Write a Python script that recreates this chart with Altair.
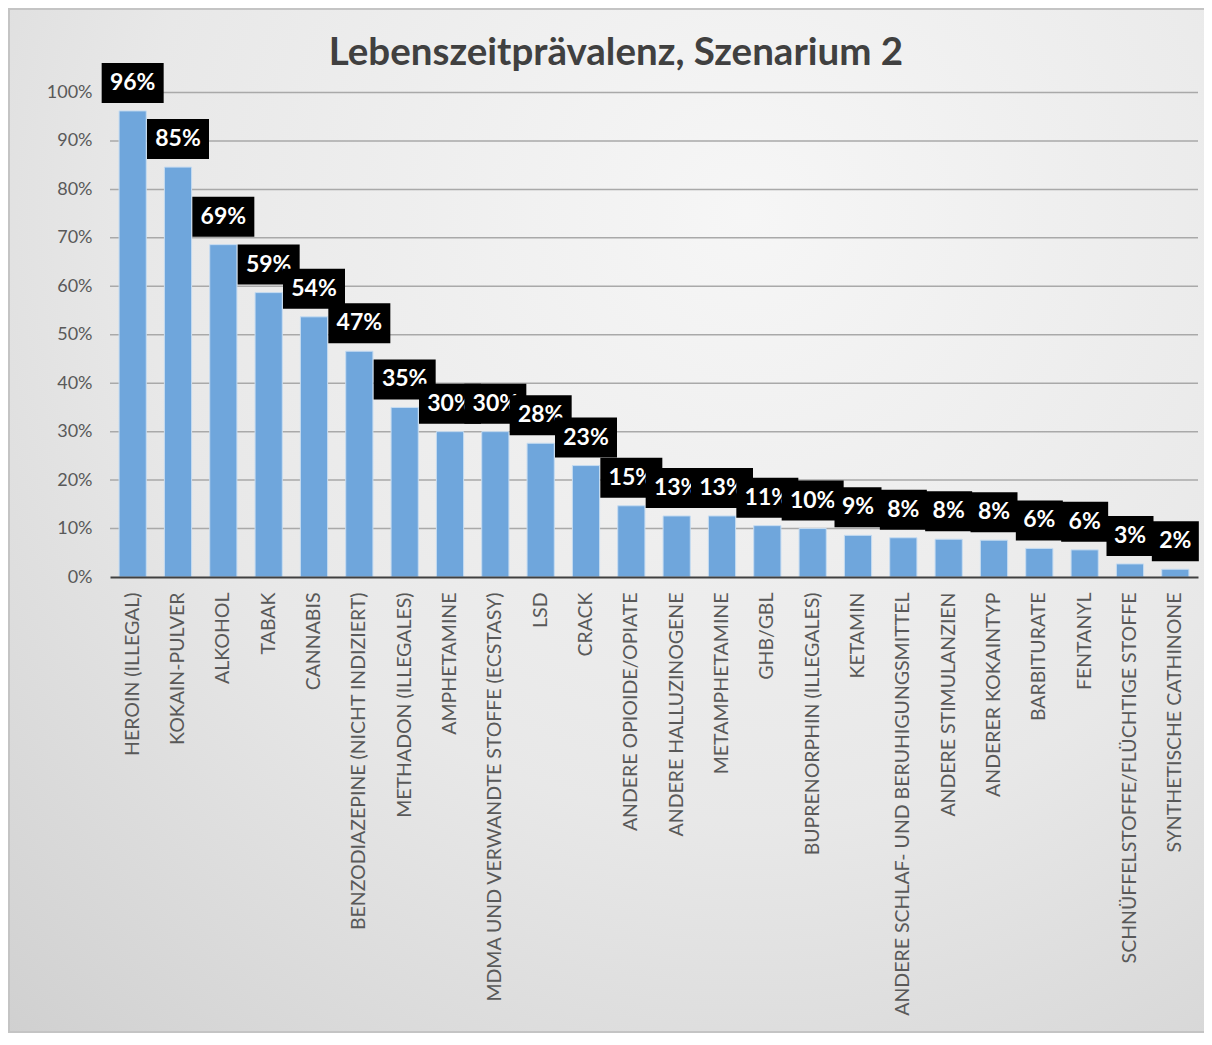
import altair as alt
import pandas as pd

categories = [
    "HEROIN (ILLEGAL)", "KOKAIN-PULVER", "ALKOHOL", "TABAK", "CANNABIS",
    "BENZODIAZEPINE (NICHT INDIZIERT)", "METHADON (ILLEGALES)", "AMPHETAMINE",
    "MDMA UND VERWANDTE STOFFE (ECSTASY)", "LSD", "CRACK", "ANDERE OPIOIDE/OPIATE",
    "ANDERE HALLUZINOGENE", "METAMPHETAMINE", "GHB/GBL", "BUPRENORPHIN (ILLEGALES)",
    "KETAMIN", "ANDERE SCHLAF- UND BERUHIGUNGSMITTEL", "ANDERE STIMULANZIEN",
    "ANDERER KOKAINTYP", "BARBITURATE", "FENTANYL",
    "SCHNÜFFELSTOFFE/FLÜCHTIGE STOFFE", "SYNTHETISCHE CATHINONE",
]
values = [
    0.962, 0.846, 0.686, 0.587, 0.537, 0.466, 0.350, 0.300, 0.300, 0.276, 0.230,
    0.147, 0.126, 0.126, 0.106, 0.100, 0.086, 0.081, 0.078, 0.076, 0.059, 0.056,
    0.027, 0.016,
]
y_ticks = [0.0, 0.1, 0.2, 0.3, 0.4, 0.5, 0.6, 0.7, 0.8, 0.9, 1.0]
grid_lines = [0.1, 0.2, 0.3, 0.4, 0.5, 0.6, 0.7, 0.8, 0.9, 1.0]
title_text = ["Lebenszeitprävalenz, Szenarium 2"]

W = 1088
H = 484.5
PAD_L, PAD_T, PAD_R, PAD_B = 102, 84.5, 6, 456

df = pd.DataFrame({"cat": categories, "v": values})
df["label"] = [f"{round(v * 100):d}%" for v in values]
grid_df = pd.DataFrame({"t": grid_lines})
title_df = pd.DataFrame({"title": title_text})

FONT = "Lato"
xscale = alt.Scale(domain=categories, paddingInner=0.4, paddingOuter=0.2)
yscale = alt.Scale(domain=[0, 1])

x_enc = alt.X(
    "cat:N", scale=xscale, sort=categories, title=None,
    axis=alt.Axis(
        labelAngle=-90, labelFontSize=19.5, labelColor="#595959", labelFont=FONT,
        labelPadding=15, labelLimit=700, ticks=False, domainColor="#404040",
        domainWidth=2, grid=False, zindex=2,
    ),
)
y_enc = alt.Y(
    "v:Q", scale=yscale, title=None,
    axis=alt.Axis(
        values=y_ticks, format=".0%", labelFontSize=18, labelColor="#595959",
        labelFont=FONT, labelPadding=18, ticks=False, domain=False, grid=False,
        zindex=2,
    ),
)

bg = alt.Chart(df).mark_rect(
    color=alt.RadialGradient(
        gradient="radial",
        stops=[
            alt.GradientStop(color="#f6f6f6", offset=0),
            alt.GradientStop(color="#e8e8e8", offset=0.55),
            alt.GradientStop(color="#d0d0d0", offset=1),
        ],
        x1=0.6, y1=0.25, r1=0, x2=0.6, y2=0.25, r2=0.9,
    ),
    stroke="#c4c4c4", strokeWidth=2,
).encode(
    x=alt.value(-PAD_L + 1), x2=alt.value(W + 40),
    y=alt.value(-PAD_T + 1), y2=alt.value(H + PAD_B - 1),
)

title = alt.Chart(title_df).mark_text(
    fontSize=38.5, font=FONT, fontWeight="bold", color="#404040",
    align="center", baseline="alphabetic",
).encode(text="title:N", x=alt.value(506), y=alt.value(-27.5))

grid = alt.Chart(grid_df).mark_rule(color="#a9a9a9", strokeWidth=1.5).encode(
    y=alt.Y("t:Q", scale=yscale)
)

bars = alt.Chart(df).mark_bar(
    color="#6fa6dc", stroke="#c6dcf1", strokeWidth=1, opacity=1
).encode(x=x_enc, y=y_enc)

layers = [bg, title, grid, bars]
for cat, lab in zip(categories, df["label"]):
    bw = 62 if len(lab) >= 3 else 47
    base = alt.Chart(df).transform_filter(alt.datum.cat == cat)
    box = base.mark_bar(
        color="#000000", width=bw, yOffset=-8, y2Offset=-48
    ).encode(
        x=alt.X("cat:N", scale=xscale, sort=categories),
        y=alt.Y("v:Q", scale=yscale),
        y2="v:Q",
    )
    txt = base.mark_text(
        color="#ffffff", fontSize=23, fontWeight="bold", font=FONT,
        dy=-28, baseline="middle", align="center",
    ).encode(
        x=alt.X("cat:N", scale=xscale, sort=categories),
        y=alt.Y("v:Q", scale=yscale),
        text="label:N",
    )
    layers += [box, txt]

chart = alt.layer(*layers).properties(
    width=W,
    height=H,
    autosize=alt.AutoSizeParams(type="none"),
    padding={"left": PAD_L, "top": PAD_T, "right": PAD_R, "bottom": PAD_B},
    background="#ffffff",
).configure_view(stroke=None)

chart.save("out.html", embed_options={"renderer": "svg", "actions": False})
